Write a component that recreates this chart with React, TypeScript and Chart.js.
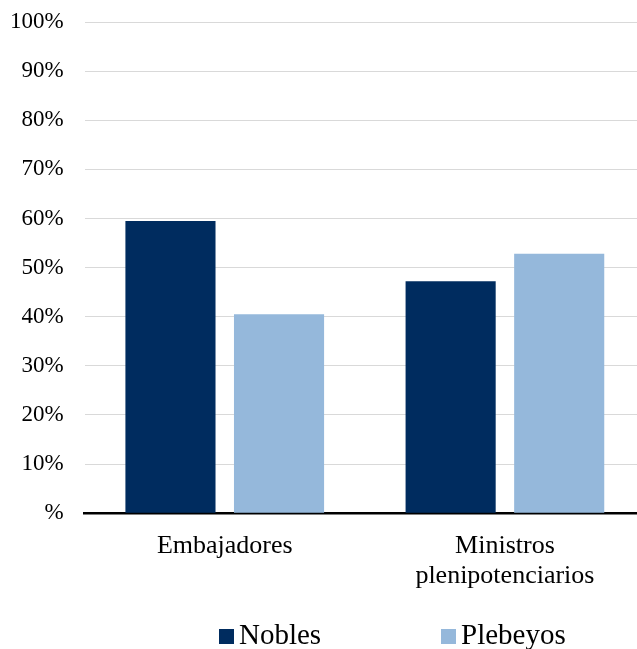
import React, { useEffect, useRef } from "react";
import { Chart, registerables } from "chart.js";

Chart.register(...registerables);

const categories: (string | string[])[] = ["Embajadores", ["Ministros", "plenipotenciarios"]];
const seriesNames = ["Nobles", "Plebeyos"];
const nobles = [59.5, 47.2];
const plebeyos = [40.5, 52.8];
const yTicks = [0, 10, 20, 30, 40, 50, 60, 70, 80, 90, 100];
const colors = ["#002c5f", "#95b8db"];

const FONT = "'Liberation Serif', 'Times New Roman', serif";

const legendPlugin = {
  id: "customLegend",
  afterDraw(chart: any) {
    const ctx = chart.ctx;
    const ds = chart.data.datasets;
    const starts = [219, 441];
    ctx.save();
    ctx.font = `29px ${FONT}`;
    ctx.textBaseline = "alphabetic";
    ctx.textAlign = "left";
    ds.forEach((d: any, i: number) => {
      const x = starts[i];
      ctx.fillStyle = d.backgroundColor;
      ctx.fillRect(x, 629, 15, 15);
      ctx.fillStyle = "#000";
      ctx.fillText(d.label, x + 20, 644);
    });
    ctx.restore();
  },
};

export default function App() {
  const ref = useRef<HTMLCanvasElement | null>(null);
  useEffect(() => {
    if (!ref.current) return;
    const chart = new Chart(ref.current, {
      type: "bar",
      data: {
        labels: categories,
        datasets: [
          { label: seriesNames[0], data: nobles, backgroundColor: colors[0] },
          { label: seriesNames[1], data: plebeyos, backgroundColor: colors[1] },
        ],
      },
      plugins: [legendPlugin],
      options: {
        animation: false,
        responsive: true,
        maintainAspectRatio: false,
        layout: { padding: { left: -11, top: 22, right: 0, bottom: 48 } },
        datasets: {
          bar: { categoryPercentage: 0.775, barPercentage: 0.83 },
        },
        plugins: {
          legend: { display: false },
          tooltip: { enabled: false },
        },
        scales: {
          x: {
            grid: { display: false },
            border: { display: true, color: "#000", width: 2.5 },
            ticks: {
              color: "#000",
              padding: 10,
              font: { family: FONT, size: 26, lineHeight: 1.15 },
            },
          },
          y: {
            min: 0,
            max: 100,
            afterBuildTicks: (axis: any) => {
              axis.ticks = yTicks.map((v) => ({ value: v }));
            },
            afterFit: (axis: any) => {
              axis.paddingTop = 0;
              axis.paddingBottom = 0;
            },
            grid: { color: "#d9d9d9", lineWidth: 1, drawTicks: false },
            border: { display: false },
            ticks: {
              color: "#000",
              padding: 21,
              font: { family: FONT, size: 23 },
              callback: (v: any) => (v === 0 ? "%" : `${v}%`),
            },
          },
        },
      },
    });
    return () => chart.destroy();
  }, []);
  return (
    <div style={{ position: "absolute", left: 0, top: 0, width: 637, height: 649, overflow: "hidden", background: "#fff" }}>
      <div style={{ position: "relative", width: 645, height: 649 }}>
        <canvas ref={ref} />
      </div>
    </div>
  );
}
